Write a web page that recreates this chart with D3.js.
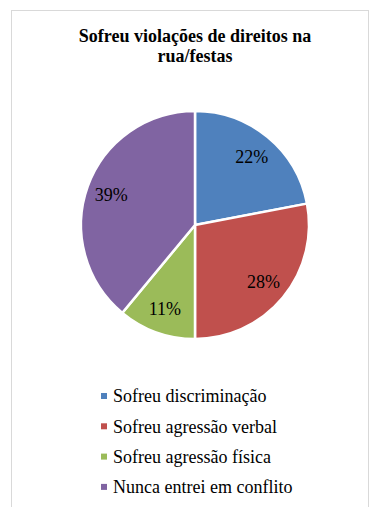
<!DOCTYPE html>
<html><head><meta charset="utf-8">
<script src="https://cdn.jsdelivr.net/npm/d3@7"></script>
<style>body{margin:0;background:#fff}svg{display:block}</style>
</head><body>
<script>
const categories = ["Sofreu discriminação","Sofreu agressão verbal","Sofreu agressão física","Nunca entrei em conflito"];
const values = [22, 28, 11, 39];
const labels = ["22%","28%","11%","39%"];
const colors = ["#4f81bd","#c0504d","#9bbb59","#8064a2"];
const titleLines = ["Sofreu violações de direitos na","rua/festas"];

const W=370,H=507;
const FF='"Liberation Serif"';
const svg=d3.select("body").append("svg").attr("width",W).attr("height",H);
svg.append("rect").attr("x",11.5).attr("y",10.5).attr("width",357).attr("height",520)
  .attr("fill","#fff").attr("stroke","#d9d9d9").attr("stroke-width",1);

svg.append("g").selectAll("text").data(titleLines).join("text")
  .attr("x",195).attr("y",(d,i)=>42+i*20).attr("text-anchor","middle")
  .style("font-family",FF).style("font-weight","bold").style("font-size","18px").attr("fill","#000").text(d=>d);

const cx=195,cy=225,R=114;
const pie=d3.pie().sort(null).value(d=>d)(values);
const arc=d3.arc().innerRadius(0).outerRadius(R);
const g=svg.append("g").attr("transform",`translate(${cx},${cy})`);
g.selectAll("path").data(pie).join("path").attr("d",arc)
  .attr("fill",(d,i)=>colors[i]).attr("stroke","#fff").attr("stroke-width",2.5);
const labelArc=d3.arc().innerRadius(R*0.78).outerRadius(R*0.78);
g.selectAll("text").data(pie).join("text")
  .attr("transform",d=>{const c=labelArc.centroid(d);return `translate(${c[0]},${c[1]})`;})
  .attr("text-anchor","middle").attr("dy","0.35em")
  .style("font-family",FF).style("font-size","18px").attr("fill","#000").text((d,i)=>labels[i]);

const lg=svg.append("g");
const rows=lg.selectAll("g").data(categories).join("g").attr("transform",(d,i)=>`translate(101,${396+i*30.3})`);
rows.append("rect").attr("x",0).attr("y",-3).attr("width",6).attr("height",6).attr("fill",(d,i)=>colors[i]);
rows.append("text").attr("x",12).attr("y",0).attr("dy","0.35em")
  .style("font-family",FF).style("font-size","18px").attr("fill","#000").text(d=>d);
</script>
</body></html>
